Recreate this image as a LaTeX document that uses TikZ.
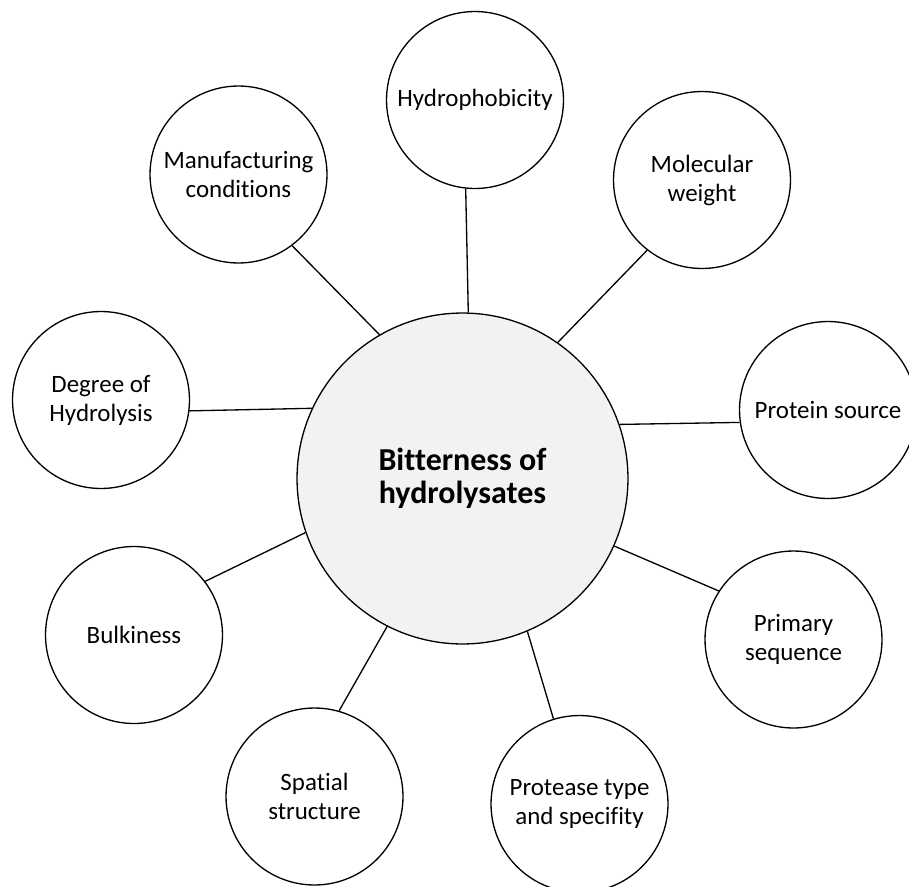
\documentclass[tikz,border=0pt]{standalone}
\usepackage{fontspec}
\setmainfont{Carlito}[Ligatures=NoCommon]
\usetikzlibrary{positioning}
\tikzset{
  kor/.style={draw,circle,line width=0.75pt,minimum size=3.54cm,inner sep=0pt,align=center,
              font=\fontsize{14.2}{16.5}\selectfont},
  kozep/.style={draw,circle,line width=0.75pt,fill=gray!10,minimum size=6.62cm,inner sep=0pt,align=center,
                font=\bfseries\fontsize{18.2}{19}\selectfont},
  vonal/.style={line width=0.75pt},
}

\begin{document}
\begin{tikzpicture}[x=0.02cm,y=-0.02cm]
  \useasboundingbox (0,0) rectangle (909,886);
  \node[kozep] (k) at (462.5,478.5) {Bitterness of\\hydrolysates};
  \node[kor] (h) at (475,100) {Hydrophobicity};
  \node[kor] (m) at (702,180) {Molecular\\weight};
  \node[kor] (p) at (828,410) {Protein source};
  \node[kor] (s) at (793.5,639.5) {Primary\\sequence};
  \node[kor] (t) at (579.5,804) {Protease type\\and specifity};
  \node[kor] (r) at (314.5,796.5) {Spatial\\structure};
  \node[kor] (b) at (134,635) {Bulkiness};
  \node[kor] (d) at (101,400) {Degree of\\Hydrolysis};
  \node[kor] (g) at (238.5,174.5) {Manufacturing\\conditions};
  \draw[vonal] (k.88.4) -- (h.264.7);
  \draw[vonal] (k.55.3) -- (m.232.4);
  \draw[vonal] (k.19.6) -- (p.188.4);
  \draw[vonal] (k.-24.3) -- (s.147.3);
  \draw[vonal] (k.-67.8) -- (t.107.7);
  \draw[vonal] (k.243.7) -- (r.74.6);
  \draw[vonal] (k.199.1) -- (b.37.8);
  \draw[vonal] (k.155.8) -- (d.-7);
  \draw[vonal] (k.120.5) -- (g.-53.7);
\end{tikzpicture}
\end{document}
